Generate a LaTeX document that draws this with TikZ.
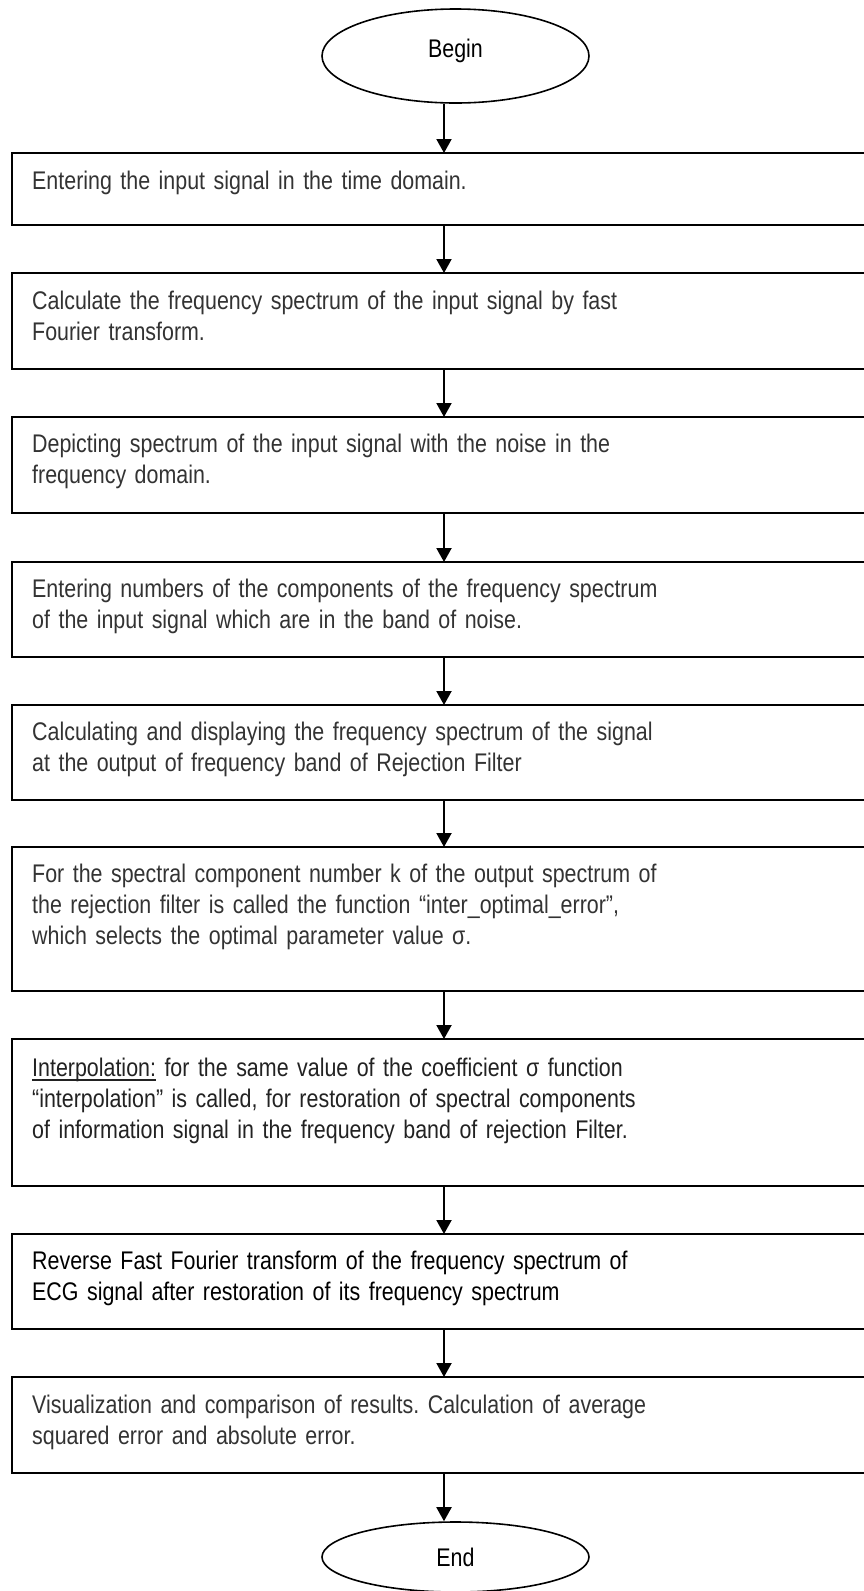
\documentclass[tikz,border=0pt]{standalone}
\usepackage{fontspec}
\setmainfont[FakeStretch=0.84,WordSpace=0.9]{Liberation Sans}
\usetikzlibrary{shapes.geometric,arrows.meta,calc}
\definecolor{txtgray}{HTML}{333333}
\definecolor{txtdark}{HTML}{222222}
\newcommand\ulinetxt[1]{\setbox0\hbox{#1}\rlap{\rule[-4.5pt]{\wd0}{1.2pt}}\box0\relax}
\frenchspacing
\begin{document}
\begin{tikzpicture}[x=1pt,y=1pt,
  box/.style={draw=black, line width=2pt, rectangle, anchor=north west,
    minimum width=880pt, inner sep=0pt, outer sep=0pt},
  term/.style={draw=black, line width=1.6pt, ellipse, inner sep=0pt,
    minimum width=267pt},
  txt/.style={anchor=base west, inner sep=0pt, text width=820pt, align=left,
    text=txtgray, font=\fontsize{25.5}{31}\selectfont\frenchspacing},
  lbl/.style={anchor=base, inner sep=0pt, text=black,
    font=\fontsize{25.5}{31}\selectfont},
  arr/.style={draw=black, line width=2pt,
    -{Triangle[length=14pt,width=15pt]}}]
\useasboundingbox (0,0) rectangle (864,-1591);
\clip (0,0) rectangle (864,-1591);
\fill[white] (0,0) rectangle (864,-1591);

\coordinate (col) at (444,0);

% terminals
\node[term, minimum height=94pt] (begin) at (455.5,-56) {};
\node[lbl] (tbegin) at (455.5,-57) {Begin};
\node[term, minimum height=70pt] (end) at (455.5,-1557) {};
\node[lbl] (tend) at (455.5,-1566) {End};

% boxes
\node[box, minimum height=72pt]  (b1) at (12,-153)  {};
\node[box, minimum height=96pt]  (b2) at (12,-273)  {};
\node[box, minimum height=96pt]  (b3) at (12,-417)  {};
\node[box, minimum height=95pt]  (b4) at (12,-562)  {};
\node[box, minimum height=95pt]  (b5) at (12,-705)  {};
\node[box, minimum height=144pt] (b6) at (12,-847)  {};
\node[box, minimum height=147pt] (b7) at (12,-1039) {};
\node[box, minimum height=95pt]  (b8) at (12,-1234) {};
\node[box, minimum height=96pt]  (b9) at (12,-1377) {};

% texts
\node[txt] (t1) at ($(b1.north west)+(20,-36)$) {Entering the input signal in the time domain.};
\node[txt] (t2) at ($(b2.north west)+(20,-36)$) {Calculate the frequency spectrum of the input signal by fast\\Fourier transform.};
\node[txt] (t3) at ($(b3.north west)+(20,-35)$) {Depicting spectrum of the input signal with the noise in the\\frequency domain.};
\node[txt] (t4) at ($(b4.north west)+(20,-35)$) {Entering numbers of the components of the frequency spectrum\\of the input signal which are in the band of noise.};
\node[txt] (t5) at ($(b5.north west)+(20,-35)$) {Calculating and displaying the frequency spectrum of the signal\\at the output of frequency band of Rejection Filter};
\node[txt] (t6) at ($(b6.north west)+(20,-35)$) {For the spectral component number k of the output spectrum of\\the rejection filter is called the function “inter\_optimal\_error”,\\which selects the optimal parameter value σ.};
\node[txt, text=txtdark] (t7) at ($(b7.north west)+(20,-37)$) {\ulinetxt{Interpolation:} for the same value of the coefficient σ function\\“interpolation” is called, for restoration of spectral components\\of information signal in the frequency band of rejection Filter.};
\node[txt, text=black] (t8) at ($(b8.north west)+(20,-35)$) {Reverse Fast Fourier transform of the frequency spectrum of\\ECG signal after restoration of its frequency spectrum};
\node[txt] (t9) at ($(b9.north west)+(20,-36)$) {Visualization and comparison of results. Calculation of average\\squared error and absolute error.};

% connectors
\draw[arr] (begin.south -| col) -- (b1.north -| col);
\draw[arr] (b1.south -| col) -- (b2.north -| col);
\draw[arr] (b2.south -| col) -- (b3.north -| col);
\draw[arr] (b3.south -| col) -- (b4.north -| col);
\draw[arr] (b4.south -| col) -- (b5.north -| col);
\draw[arr] (b5.south -| col) -- (b6.north -| col);
\draw[arr] (b6.south -| col) -- (b7.north -| col);
\draw[arr] (b7.south -| col) -- (b8.north -| col);
\draw[arr] (b8.south -| col) -- (b9.north -| col);
\draw[arr] (b9.south -| col) -- (end.north -| col);
\end{tikzpicture}
\end{document}
